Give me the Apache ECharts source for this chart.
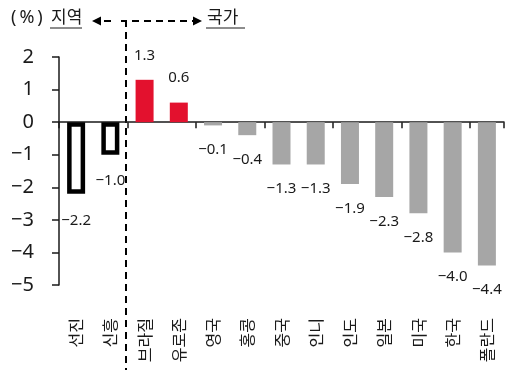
<!DOCTYPE html>
<html>
<head>
<meta charset="utf-8">
<script src="https://cdn.jsdelivr.net/npm/echarts@6/dist/echarts.min.js"></script>
<style>
  html, body { margin: 0; padding: 0; background: #fff; }
  #chart { width: 505px; height: 370px; }
</style>
</head>
<body>
<div id="chart"></div>
<script>
// Regions (outlined) followed by individual economies
const categories = ['선진', '신흥', '브라질', '유로존', '영국', '홍콩', '중국', '인니', '인도', '일본', '미국', '한국', '폴란드'];
const values = [-2.2, -1.0, 1.3, 0.6, -0.1, -0.4, -1.3, -1.3, -1.9, -2.3, -2.8, -4.0, -4.4];
const regionCount = 2;
const yTicks = [-5, -4, -3, -2, -1, 0, 1, 2];

const FONT = '"Noto Sans", "Noto Sans CJK KR", sans-serif';
const KFONT = '"Noto Sans CJK KR", "Noto Sans", sans-serif';
const INK = '#1a1a1a';
const RED = '#e3112e';
const GRAY = '#a6a6a6';

const fmt = v => (v < 0 ? '\u2212' : '') + Math.abs(v).toFixed(1);

const barData = values.map((v, i) => {
  const region = i < regionCount;
  const color = region ? '#ffffff' : (v > 0 ? RED : GRAY);
  return {
    value: v,
    itemStyle: region
      ? { color: color, borderColor: '#000', borderWidth: 4.5 }
      : { color: color },
    label: {
      position: v >= 0 ? 'top' : 'bottom',
      distance: region ? 19 : 17
    }
  };
});

const chart = echarts.init(document.getElementById('chart'), null, { renderer: 'canvas' });

chart.setOption({
  animation: false,
  backgroundColor: '#fff',
  grid: { left: 59, right: 1, top: 57, bottom: 85, containLabel: false },
  xAxis: [
    {
      type: 'category',
      data: categories,
      position: 'bottom',
      axisLine: { onZero: true, lineStyle: { color: INK, width: 1.5 } },
      axisTick: { show: true, length: 6, lineStyle: { color: INK, width: 1.5 } },
      axisLabel: { show: false },
      splitLine: { show: false }
    },
    {
      type: 'category',
      data: categories,
      position: 'bottom',
      offset: 0,
      axisLine: { show: false, onZero: false },
      axisTick: { show: false },
      axisLabel: {
        rotate: 90,
        margin: 33,
        fontSize: 16,
        color: INK,
        fontFamily: KFONT,
        interval: 0
      },
      splitLine: { show: false }
    }
  ],
  yAxis: {
    type: 'value',
    min: yTicks[0],
    max: yTicks[yTicks.length - 1],
    interval: 1,
    axisLine: { show: true, lineStyle: { color: INK, width: 1.5 } },
    axisTick: { show: true, length: 7, lineStyle: { color: INK, width: 1.5 } },
    axisLabel: {
      margin: 25,
      fontSize: 20,
      color: INK,
      fontFamily: FONT,
      formatter: v => (v < 0 ? '\u2212' : '') + Math.abs(v)
    },
    splitLine: { show: false }
  },
  series: [
    {
      type: 'bar',
      xAxisIndex: 0,
      data: barData,
      barWidth: 18,
      label: {
        show: true,
        fontSize: 15,
        color: INK,
        fontFamily: FONT,
        formatter: p => fmt(p.value)
      }
    }
  ]
});

// Header with the region / country divider, placed from the axis scale
function drawDivider() {
  const left = chart.convertToPixel({ xAxisIndex: 0 }, regionCount - 1);
  const right = chart.convertToPixel({ xAxisIndex: 0 }, regionCount);
  const x = Math.round((left + right) / 2) - 1;
  const y = 21;
  const dash = { stroke: '#000', lineWidth: 2, lineDash: [7, 5] };
  chart.setOption({
    graphic: [
      { type: 'text', left: 11, top: 9, style: { text: '(\u2009%\u2009)', fill: INK, font: '18px ' + FONT } },
      { type: 'text', left: 51, top: 8, style: { text: '지역', fill: INK, font: '17px ' + KFONT } },
      { type: 'line', shape: { x1: 50, y1: 28, x2: 82, y2: 28 }, style: { stroke: INK, lineWidth: 1 } },
      { type: 'text', left: 207, top: 8, style: { text: '국가', fill: INK, font: '17px ' + KFONT } },
      { type: 'line', shape: { x1: 206, y1: 28, x2: 245, y2: 28 }, style: { stroke: INK, lineWidth: 1 } },
      // left arrow
      { type: 'polygon', shape: { points: [[92, y], [101, y - 4.5], [101, y + 4.5]] }, style: { fill: '#000' } },
      { type: 'line', shape: { x1: 104, y1: y, x2: 111, y2: y }, style: { stroke: '#000', lineWidth: 2 } },
      { type: 'line', shape: { x1: x - 5, y1: y, x2: x + 1, y2: y }, style: { stroke: '#000', lineWidth: 2 } },
      // right dashed run with arrow
      { type: 'line', shape: { x1: x + 6, y1: y, x2: 193, y2: y }, style: dash },
      { type: 'polygon', shape: { points: [[202, y], [193, y - 4.5], [193, y + 4.5]] }, style: { fill: '#000' } },
      // vertical divider
      { type: 'line', shape: { x1: x, y1: y - 1, x2: x, y2: 372 }, style: dash }
    ]
  });
}
drawDivider();
</script>
</body>
</html>
